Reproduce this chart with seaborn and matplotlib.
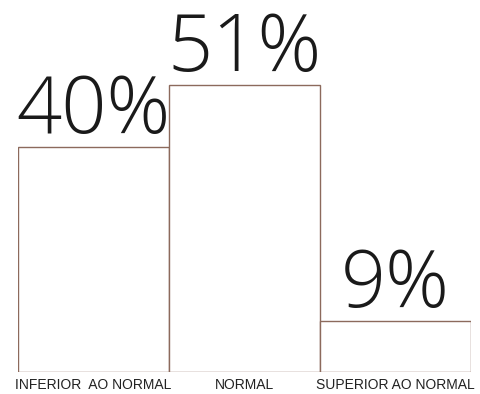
import matplotlib
matplotlib.use("Agg")
import matplotlib.pyplot as plt
import matplotlib.font_manager as fm
import seaborn as sns
import pandas as pd

categories = ["INFERIOR  AO NORMAL", "NORMAL", "SUPERIOR AO NORMAL"]
values = [40, 51, 9]
labels = ["40%", "51%", "9%"]

sns.set_style("white")
df = pd.DataFrame({"cat": categories, "val": values})

fig = plt.figure(figsize=(4.8, 3.94), dpi=100)
ax = fig.add_axes([18/480, 22/394, 453/480, 372/394])
sns.barplot(data=df, x="cat", y="val", ax=ax, width=1.0, color="white",
            edgecolor="#8c6a5c", linewidth=1.0)
ax.set_ylim(0, 66)
ax.set_xlim(-0.5, 2.5)
for s in ax.spines.values():
    s.set_visible(False)
ax.set_yticks([])
ax.set_xlabel("")
ax.set_ylabel("")
ax.tick_params(axis="x", length=0, pad=4)
for t in ax.get_xticklabels():
    t.set_fontfamily("Liberation Sans")
    t.set_fontsize(10)
    t.set_color("#222222")
for i, (v, l) in enumerate(zip(values, labels)):
    ax.annotate(l, (i, v), xytext=(0, 10), textcoords="offset points",
                ha="center", va="baseline", fontsize=57, fontfamily="Open Sans",
                fontweight="light", color="#1a1a1a")
fig.savefig("out.png", dpi=100)
